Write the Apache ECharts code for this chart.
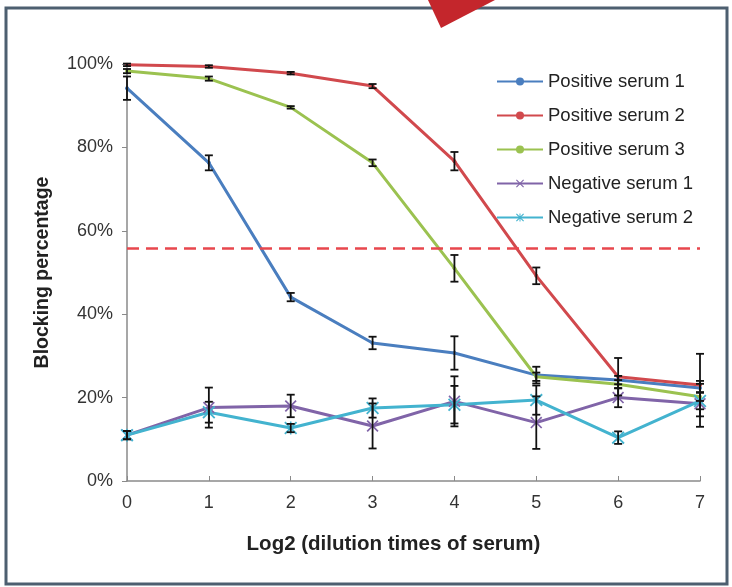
<!DOCTYPE html>
<html>
<head>
	<meta charset="UTF-8">
	<title>blocking</title>
	<style>html,body{margin:0;padding:0;background:#fff;}</style>
</head>
<body>
	<div id="mychart" style="width:732px;height:587px;"></div>
<script type="text/javascript" src="https://cdn.jsdelivr.net/npm/echarts@6/dist/echarts.min.js"></script>
<script type="text/javascript">
	// 数据
	var xVals = [0, 1, 2, 3, 4, 5, 6, 7];
	var pos1 = [94.2, 76.3, 44.1, 33.1, 30.7, 25.4, 24.2, 22.3],
	    pos1Err = [2.8, 1.8, 1.0, 1.5, 4.0, 2.0, 1.0, 1.0];
	var pos2 = [99.8, 99.4, 97.8, 94.7, 76.7, 49.2, 25.0, 23.0],
	    pos2Err = [0.3, 0.3, 0.3, 0.5, 2.2, 2.0, 4.5, 7.5];
	var pos3 = [98.3, 96.5, 89.6, 76.3, 51.0, 25.0, 23.2, 20.2],
	    pos3Err = [0.5, 0.5, 0.3, 0.8, 3.2, 1.0, 1.0, 1.0];
	var neg1 = [11.0, 17.6, 18.0, 13.2, 19.1, 14.0, 20.0, 18.5],
	    neg1Err = [1.0, 4.8, 2.7, 5.4, 6.0, 6.3, 2.3, 5.5];
	var neg2 = [11.0, 16.5, 12.7, 17.5, 18.3, 19.4, 10.4, 19.2],
	    neg2Err = [1.0, 2.5, 1.0, 2.3, 4.5, 3.5, 1.5, 2.0];
	var cutoff = 55.8;
	var names = ['Positive serum 1', 'Positive serum 2', 'Positive serum 3', 'Negative serum 1', 'Negative serum 2'];

	var xPath = 'path://M0,1 L1,0 L5,4 L9,0 L10,1 L6,5 L10,9 L9,10 L5,6 L1,10 L0,9 L4,5 Z';
	var starPath = 'path://M0,1 L1,0 L5,4 L9,0 L10,1 L6,5 L10,9 L9,10 L5,6 L1,10 L0,9 L4,5 Z M4.4,0 L5.6,0 L5.6,10 L4.4,10 Z';

	function pairs(arr) {
		return xVals.map(function (x, i) { return [x, arr[i]]; });
	}
	function errData(vals, errs) {
		return xVals.map(function (x, i) { return [x, vals[i] - errs[i], vals[i] + errs[i]]; });
	}
	function errSeries(vals, errs) {
		return {
			type: 'custom',
			z: 5,
			silent: true,
			renderItem: function (params, api) {
				var lo = api.coord([api.value(0), api.value(1)]);
				var hi = api.coord([api.value(0), api.value(2)]);
				var w = 4;
				var st = { stroke: '#111', lineWidth: 1.8 };
				return {
					type: 'group',
					children: [
						{ type: 'line', shape: { x1: lo[0], y1: lo[1], x2: hi[0], y2: hi[1] }, style: st },
						{ type: 'line', shape: { x1: lo[0] - w, y1: lo[1], x2: lo[0] + w, y2: lo[1] }, style: st },
						{ type: 'line', shape: { x1: hi[0] - w, y1: hi[1], x2: hi[0] + w, y2: hi[1] }, style: st }
					]
				};
			},
			encode: { x: 0, y: [1, 2] },
			data: errData(vals, errs)
		};
	}
	function lineSeries(name, vals, color, symbol, size) {
		return {
			name: name,
			type: 'line',
			z: 3,
			data: pairs(vals),
			symbol: symbol,
			symbolSize: size,
			showAllSymbol: true,
			lineStyle: { color: color, width: 3 },
			itemStyle: { color: color },
			emphasis: { disabled: true }
		};
	}

	var myChart = echarts.init(document.getElementById('mychart'));
	var series = [
		lineSeries(names[0], pos1, '#4a7ebf', 'circle', 4),
		lineSeries(names[1], pos2, '#d1494d', 'circle', 4),
		lineSeries(names[2], pos3, '#9bc250', 'circle', 4),
		lineSeries(names[3], neg1, '#8064a8', xPath, 12),
		lineSeries(names[4], neg2, '#43b3cf', starPath, 13),
		errSeries(pos1, pos1Err), errSeries(pos2, pos2Err), errSeries(pos3, pos3Err),
		errSeries(neg1, neg1Err), errSeries(neg2, neg2Err)
	];
	// cutoff 虚线
	series[1].markLine = {
		silent: true,
		symbol: 'none',
		label: { show: false },
		lineStyle: { color: '#e8474d', type: [12, 7], width: 2.5 },
		data: [{ yAxis: cutoff }]
	};

	var option = {
		animation: false,
		textStyle: { fontFamily: 'Liberation Sans, Arial, sans-serif' },
		legend: {
			orient: 'vertical',
			left: 491,
			top: 67,
			itemWidth: 46,
			itemHeight: 10,
			itemGap: 15,
			data: names,
			textStyle: { fontSize: 18.5, lineHeight: 18, color: '#222' }
		},
		grid: { left: 127, right: 32, top: 64, bottom: 106 },
		xAxis: {
			type: 'value',
			min: 0, max: 7, interval: 1,
			name: 'Log2 (dilution times of serum)',
			nameLocation: 'middle',
			nameGap: 53,
			nameTextStyle: { fontSize: 20.5, fontWeight: 'bold', color: '#222', padding: [0, 40, 0, 0] },
			axisLine: { lineStyle: { color: '#8a8a8a', width: 1.5 } },
			axisTick: { inside: true, length: 5, lineStyle: { color: '#8a8a8a' } },
			axisLabel: { fontSize: 18, color: '#333', margin: 13 },
			splitLine: { show: false }
		},
		yAxis: {
			type: 'value',
			min: 0, max: 100, interval: 20,
			name: 'Blocking percentage',
			nameLocation: 'middle',
			nameGap: 74,
			nameTextStyle: { fontSize: 19.5, fontWeight: 'bold', color: '#222' },
			axisLine: { show: true, lineStyle: { color: '#8a8a8a', width: 1.5 } },
			axisTick: { show: true, length: 5, lineStyle: { color: '#8a8a8a' } },
			axisLabel: { fontSize: 18, color: '#333', margin: 14, formatter: '{value}%' },
			splitLine: { show: false }
		},
		graphic: [
			{ type: 'rect', shape: { x: 6, y: 8, width: 721, height: 576 }, style: { fill: 'none', stroke: '#4d5f70', lineWidth: 3 }, z: 100 },
			{ type: 'polygon', shape: { points: [[428, 0], [495, 0], [441, 28]] }, style: { fill: '#c4262c' }, z: 101 }
		],
		series: series
	};
	myChart.setOption(option);
	window.onresize = myChart.resize;
</script>
</body>
</html>
